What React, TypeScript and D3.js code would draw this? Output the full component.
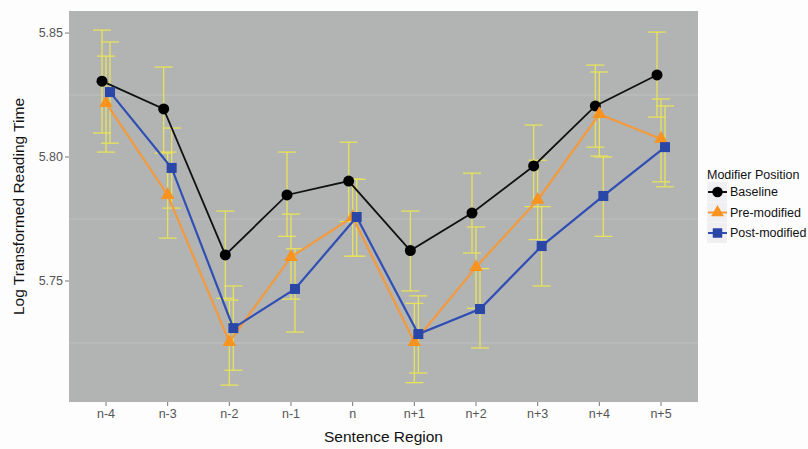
import React from "react";
import * as d3 from "d3";

const categories = ["n-4", "n-3", "n-2", "n-1", "n", "n+1", "n+2", "n+3", "n+4", "n+5"];

const baseline = [5.8306, 5.8194, 5.7605, 5.7847, 5.7903, 5.7623, 5.7774, 5.7964, 5.8206, 5.8331];
const baselineLo = [5.8097, 5.8016, 5.743, 5.768, 5.774, 5.746, 5.7613, 5.78, 5.804, 5.8161];
const baselineHi = [5.8512, 5.8363, 5.7782, 5.802, 5.806, 5.7782, 5.7935, 5.8129, 5.8371, 5.8504];

const pre = [5.8218, 5.7847, 5.7254, 5.7597, 5.7758, 5.7254, 5.7556, 5.7827, 5.8173, 5.8073];
const preLo = [5.802, 5.7673, 5.708, 5.7427, 5.76, 5.709, 5.739, 5.7667, 5.8004, 5.79];
const preHi = [5.8407, 5.802, 5.7423, 5.777, 5.7911, 5.741, 5.7718, 5.7987, 5.8343, 5.8234];

const post = [5.8262, 5.7956, 5.731, 5.7468, 5.7758, 5.7286, 5.7387, 5.7641, 5.7843, 5.804];
const postLo = [5.8056, 5.7794, 5.714, 5.7294, 5.76, 5.7129, 5.723, 5.748, 5.768, 5.788];
const postHi = [5.8464, 5.8117, 5.748, 5.763, 5.791, 5.744, 5.755, 5.78, 5.8, 5.8206];

const yTicks = [5.75, 5.8, 5.85];
const yMinor = [5.725, 5.775, 5.825];

const seriesNames = ["Baseline", "Pre-modified", "Post-modified"];
const seriesColors = ["#000000", "#f7931e", "#2a47a8"];
const lineColors = ["#111111", "#f39a3c", "#2f4fb5"];

const W = 808, H = 449;
const P = { left: 69, right: 698, top: 11, bottom: 402 };

export default function App() {
  const x = d3.scalePoint<string>().domain(categories).range([P.left, P.right]).padding(0.6);
  const y = d3.scaleLinear().domain([5.7012, 5.8589]).range([P.bottom, P.top]);
  const dodge = [-4, 0, 4];
  const data = [
    { v: baseline, lo: baselineLo, hi: baselineHi },
    { v: pre, lo: preLo, hi: preHi },
    { v: post, lo: postLo, hi: postHi },
  ];
  const font = "'Liberation Sans', Arial, Helvetica, sans-serif";

  const marker = (k: number, cx: number, cy: number, key: string, scale = 1) => {
    if (k === 0) return <circle key={key} cx={cx} cy={cy} r={5.5 * scale} fill={seriesColors[0]} />;
    if (k === 1) {
      const pts = d3.symbol(d3.symbolTriangle, 80 * scale * scale)();
      return <path key={key} d={pts || ""} transform={`translate(${cx},${cy})`} fill={seriesColors[1]} />;
    }
    const h = 5 * scale;
    return <rect key={key} x={cx - h} y={cy - h} width={2 * h} height={2 * h} fill={seriesColors[2]} />;
  };

  return (
    <svg width={W} height={H} style={{ position: "absolute", left: 0, top: 0, background: "#fdfdfe", fontFamily: font }}>
      <rect x={P.left} y={P.top} width={P.right - P.left} height={P.bottom - P.top} fill="#b2b3b3" />
      {yMinor.map((t) => (
        <line key={t} x1={P.left} x2={P.right} y1={y(t)} y2={y(t)} stroke="#c6c6c6" strokeWidth={0.7} />
      ))}
      {/* error bars */}
      {data.map((s, k) =>
        categories.map((c, i) => {
          const cx = (x(c) as number) + dodge[k];
          return (
            <g key={`e${k}-${i}`} stroke="#e8e35a" strokeWidth={1.3} fill="none">
              <line x1={cx} x2={cx} y1={y(s.lo[i])} y2={y(s.hi[i])} />
              <line x1={cx - 9} x2={cx + 9} y1={y(s.lo[i])} y2={y(s.lo[i])} />
              <line x1={cx - 9} x2={cx + 9} y1={y(s.hi[i])} y2={y(s.hi[i])} />
            </g>
          );
        })
      )}
      {/* lines */}
      {data.map((s, k) => {
        const path = d3
          .line<number>()
          .x((_, i) => (x(categories[i]) as number) + dodge[k])
          .y((d) => y(d))(s.v);
        return <path key={`l${k}`} d={path || ""} fill="none" stroke={lineColors[k]} strokeWidth={k === 0 ? 1.8 : 2.2} />;
      })}
      {/* points */}
      {data.map((s, k) => categories.map((c, i) => marker(k, (x(c) as number) + dodge[k], y(s.v[i]), `p${k}-${i}`)))}
      {/* y axis */}
      {yTicks.map((t) => (
        <g key={t}>
          <line x1={P.left - 4} x2={P.left} y1={y(t)} y2={y(t)} stroke="#555" strokeWidth={0.8} />
          <text x={P.left - 6} y={y(t)} dy="0.35em" textAnchor="end" fontSize={12.5} fill="#555">
            {t.toFixed(2)}
          </text>
        </g>
      ))}
      {categories.map((c) => (
        <g key={c}>
          <line x1={x(c) as number} x2={x(c) as number} y1={P.bottom} y2={P.bottom + 4} stroke="#555" strokeWidth={0.8} />
          <text x={x(c) as number} y={P.bottom + 16} textAnchor="middle" fontSize={12.5} fill="#555">
            {c}
          </text>
        </g>
      ))}
      <text x={(P.left + P.right) / 2} y={442} textAnchor="middle" fontSize={15.5} fill="#111">
        Sentence Region
      </text>
      <text transform={`translate(24,${(P.top + P.bottom) / 2}) rotate(-90)`} textAnchor="middle" fontSize={15.5} fill="#111">
        Log Transformed Reading Time
      </text>
      {/* legend */}
      <text x={707} y={179} fontSize={12.5} fill="#111">
        Modifier Position
      </text>
      {seriesNames.map((n, k) => {
        const cy = 192 + k * 20.5;
        return (
          <g key={n}>
            <rect x={707} y={cy - 10} width={20} height={20} fill="#f0f0f2" />
            <line x1={708} x2={727} y1={cy} y2={cy} stroke={lineColors[k]} strokeWidth={2} />
            {marker(k, 717.5, cy, `lg${k}`, 0.95)}
            <text x={730} y={cy} dy="0.35em" fontSize={12.5} fill="#111">
              {n}
            </text>
          </g>
        );
      })}
    </svg>
  );
}
